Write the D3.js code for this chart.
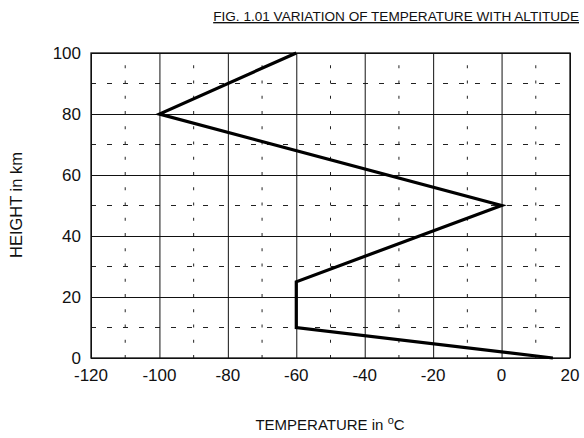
<!DOCTYPE html>
<html>
<head>
<meta charset="utf-8">
<script src="https://cdn.jsdelivr.net/npm/d3@7"></script>
<style>
  body { margin: 0; background: #fff; }
  text { font-family: "Liberation Sans", Arial, sans-serif; fill: #111; }
</style>
</head>
<body>
<svg id="chart" width="584" height="438"></svg>
<script>
// profile
let temps = [15, -60, -60, 0, -100, -60];
let heights = [0, 10, 25, 50, 80, 100];

let xTicks = [-120, -100, -80, -60, -40, -20, 0, 20];
let yTicks = [0, 20, 40, 60, 80, 100];
let xMinor = [-110, -90, -70, -50, -30, -10, 10];
let yMinor = [10, 30, 50, 70, 90];

const svg = d3.select('#chart');

const area = { left: 91, right: 570, top: 53, bottom: 358 };

let xScale = d3.scaleLinear().domain([-120, 20]).range([area.left, area.right]);
let yScale = d3.scaleLinear().domain([0, 100]).range([area.bottom, area.top]);

// dashed minor grid
svg.append('g')
  .selectAll('line')
  .data(yMinor)
  .join('line')
  .attr('x1', area.left).attr('x2', area.right)
  .attr('y1', (d) => yScale(d)).attr('y2', (d) => yScale(d))
  .attr('stroke', '#222').attr('stroke-width', 1)
  .attr('stroke-dasharray', '5,11');

svg.append('g')
  .selectAll('line')
  .data(xMinor)
  .join('line')
  .attr('y1', area.bottom).attr('y2', area.top)
  .attr('x1', (d) => xScale(d)).attr('x2', (d) => xScale(d))
  .attr('stroke', '#222').attr('stroke-width', 1)
  .attr('stroke-dasharray', '3,12.25');

// major grid
svg.append('g')
  .attr('transform', `translate(${area.left},0)`)
  .call(d3.axisLeft(yScale).tickValues(yTicks).tickFormat('').tickSize(-(area.right - area.left)))
  .call((g) => g.select('.domain').remove())
  .call((g) => g.selectAll('line').attr('stroke', '#111'));

svg.append('g')
  .attr('transform', `translate(0,${area.bottom})`)
  .call(d3.axisBottom(xScale).tickValues(xTicks).tickFormat('').tickSize(-(area.bottom - area.top)))
  .call((g) => g.select('.domain').remove())
  .call((g) => g.selectAll('line').attr('stroke', '#111'));

// frame
svg.append('rect')
  .attr('x', area.left).attr('y', area.top)
  .attr('width', area.right - area.left).attr('height', area.bottom - area.top)
  .attr('fill', 'none').attr('stroke', '#111').attr('stroke-width', 1.3);

// tick labels
svg.append('g')
  .selectAll('text')
  .data(yTicks)
  .join('text')
  .attr('x', area.left - 10)
  .attr('y', (d) => yScale(d) + 6)
  .attr('text-anchor', 'end')
  .style('font-size', '17px')
  .text((d) => d);

svg.append('g')
  .selectAll('text')
  .data(xTicks)
  .join('text')
  .attr('x', (d) => xScale(d))
  .attr('y', area.bottom + 23)
  .attr('text-anchor', 'middle')
  .style('font-size', '17px')
  .text((d) => d);

// temperature profile
const line = d3.line()
  .x((d, i) => xScale(temps[i]))
  .y((d, i) => yScale(heights[i]));

svg.append('path')
  .datum(temps)
  .attr('d', line)
  .attr('fill', 'none')
  .attr('stroke', '#000')
  .attr('stroke-width', 3.2)
  .attr('stroke-linejoin', 'miter');

// title
svg.append('text')
  .attr('x', 579)
  .attr('y', 21)
  .attr('text-anchor', 'end')
  .style('font-size', '13.6px')
  .style('text-decoration', 'underline')
  .text('FIG. 1.01 VARIATION OF TEMPERATURE WITH ALTITUDE');

// axis titles
const xt = svg.append('text')
  .attr('x', 330)
  .attr('y', 430)
  .attr('text-anchor', 'middle')
  .style('font-size', '15px');
xt.append('tspan').text('TEMPERATURE in ');
xt.append('tspan').attr('dy', -6).style('font-size', '11px').text('o');
xt.append('tspan').attr('dy', 6).text('C');

svg.append('text')
  .attr('transform', 'translate(22,205) rotate(-90)')
  .attr('text-anchor', 'middle')
  .style('font-size', '16.5px')
  .text('HEIGHT in km');
</script>
</body>
</html>
